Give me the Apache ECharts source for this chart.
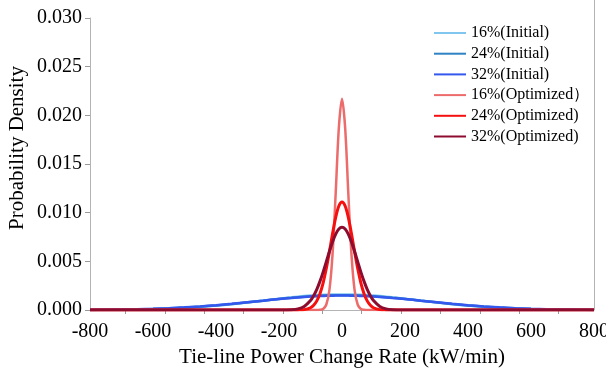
<!DOCTYPE html>
<html>
<head>
<meta charset="utf-8">
<script src="https://cdn.jsdelivr.net/npm/echarts@6/dist/echarts.min.js"></script>
<style>
  html, body { margin: 0; padding: 0; background: #fff; }
  #chart { width: 606px; height: 368px; }
</style>
</head>
<body>
<div id="chart"></div>
<script>
// x positions (kW/min)
const xs = [-800, -750, -700, -650, -600, -550, -500, -450, -400, -350, -300, -250, -200,
  -180, -160, -140, -120, -100, -90, -80, -70, -60, -50, -40, -30, -20, -10, 0,
  10, 20, 30, 40, 50, 60, 70, 80, 90, 100, 120, 140, 160, 180,
  200, 250, 300, 350, 400, 450, 500, 550, 600, 650, 700, 750, 800];

// probability density
const initial16 = [0.00001, 0.00002, 0.00003, 0.00005, 0.00009, 0.00014, 0.00022, 0.00032, 0.00045, 0.0006, 0.00078, 0.00097, 0.00116,
  0.00124, 0.0013, 0.00137, 0.00143, 0.00148, 0.0015, 0.00152, 0.00154, 0.00156, 0.00157, 0.00158, 0.00159, 0.0016, 0.0016, 0.0016,
  0.0016, 0.0016, 0.00159, 0.00158, 0.00157, 0.00156, 0.00154, 0.00152, 0.0015, 0.00148, 0.00143, 0.00137, 0.0013, 0.00124,
  0.00116, 0.00097, 0.00078, 0.0006, 0.00045, 0.00032, 0.00022, 0.00014, 0.00009, 0.00005, 0.00003, 0.00002, 0.00001];
const initial24 = [0.00001, 0.00003, 0.00004, 0.00007, 0.00011, 0.00017, 0.00025, 0.00035, 0.00047, 0.00062, 0.00079, 0.00096, 0.00114,
  0.0012, 0.00126, 0.00132, 0.00137, 0.00141, 0.00143, 0.00145, 0.00147, 0.00148, 0.00149, 0.0015, 0.00151, 0.00152, 0.00152, 0.00152,
  0.00152, 0.00152, 0.00151, 0.0015, 0.00149, 0.00148, 0.00147, 0.00145, 0.00143, 0.00141, 0.00137, 0.00132, 0.00126, 0.0012,
  0.00114, 0.00096, 0.00079, 0.00062, 0.00047, 0.00035, 0.00025, 0.00017, 0.00011, 0.00007, 0.00004, 0.00003, 0.00001];
const initial32 = [0.00002, 0.00003, 0.00005, 0.00008, 0.00013, 0.00019, 0.00027, 0.00037, 0.00049, 0.00064, 0.0008, 0.00096, 0.00113,
  0.00119, 0.00124, 0.00129, 0.00134, 0.00138, 0.0014, 0.00142, 0.00143, 0.00144, 0.00146, 0.00146, 0.00147, 0.00148, 0.00148, 0.00148,
  0.00148, 0.00148, 0.00147, 0.00146, 0.00146, 0.00144, 0.00143, 0.00142, 0.0014, 0.00138, 0.00134, 0.00129, 0.00124, 0.00119,
  0.00113, 0.00096, 0.0008, 0.00064, 0.00049, 0.00037, 0.00027, 0.00019, 0.00013, 0.00008, 0.00005, 0.00003, 0.00002];
const optimized16 = [0, 0, 0, 0, 0, 0, 0, 0, 0, 0, 0, 0, 0,
  0, 0, 0, 0, 0, 0, 0, 0.00002, 0.00011, 0.00054, 0.00204, 0.00574, 0.01202, 0.01872, 0.0217,
  0.01872, 0.01202, 0.00574, 0.00204, 0.00054, 0.00011, 0.00002, 0, 0, 0, 0, 0, 0, 0,
  0, 0, 0, 0, 0, 0, 0, 0, 0, 0, 0, 0, 0];
const optimized24 = [0, 0, 0, 0, 0, 0, 0, 0, 0, 0, 0, 0, 0,
  0, 0, 0.00001, 0.00004, 0.00023, 0.00049, 0.00094, 0.00168, 0.00277, 0.00423, 0.00599, 0.00785, 0.00951, 0.01068, 0.0111,
  0.01068, 0.00951, 0.00785, 0.00599, 0.00423, 0.00277, 0.00168, 0.00094, 0.00049, 0.00023, 0.00004, 0.00001, 0, 0,
  0, 0, 0, 0, 0, 0, 0, 0, 0, 0, 0, 0, 0];
const optimized32 = [0, 0, 0, 0, 0, 0, 0, 0, 0, 0, 0, 0, 0,
  0.00001, 0.00003, 0.00012, 0.00037, 0.00097, 0.00147, 0.00212, 0.00294, 0.00389, 0.00494, 0.00601, 0.00699, 0.00779, 0.00832, 0.0085,
  0.00832, 0.00779, 0.00699, 0.00601, 0.00494, 0.00389, 0.00294, 0.00212, 0.00147, 0.00097, 0.00037, 0.00012, 0.00003, 0.00001,
  0, 0, 0, 0, 0, 0, 0, 0, 0, 0, 0, 0, 0];

const seriesNames = ["16%(Initial)", "24%(Initial)", "32%(Initial)",
  "16%(Optimized\uFF09", "24%(Optimized)", "32%(Optimized)"];

// minor tick marks on the x axis sit between the labels
const xTickValues = [-687.5, -562.5, -437.5, -312.5, -187.5, -62.5, 62.5, 187.5, 312.5, 437.5, 562.5, 687.5];

const font = "'Liberation Serif', 'DejaVu Serif', serif";
const chart = echarts.init(document.getElementById("chart"));

function makeSeries(name, values, color, width) {
  return {
    name: name,
    type: "line",
    data: xs.map((x, i) => [x, values[i]]),
    smooth: 0.3,
    symbol: "circle",
    showSymbol: false,
    lineStyle: { color: color, width: width },
    itemStyle: { color: color },
  };
}

const option = {
  animation: false,
  backgroundColor: "#ffffff",
  grid: { left: 90, right: 12, top: 18, bottom: 58, outerBoundsMode: "none", containLabel: false },
  legend: {
    orient: "vertical",
    left: 433,
    top: 25,
    padding: 0,
    itemWidth: 32,
    itemHeight: 14,
    itemGap: 4.7,
    itemStyle: { opacity: 0 },
    textStyle: { fontFamily: font, fontSize: 16, color: "#000", lineHeight: 16 },
    data: seriesNames,
  },
  xAxis: {
    type: "value",
    min: -800,
    max: 800,
    interval: 200,
    axisLine: { show: true, onZero: false, lineStyle: { color: "#b4b4b4", width: 1 } },
    axisTick: { show: true, length: 4, customValues: xTickValues, lineStyle: { color: "#9a9a9a" } },
    axisLabel: { fontFamily: font, fontSize: 20, color: "#000", margin: 12 },
    splitLine: { show: false },
    name: "Tie-line Power Change Rate (kW/min)",
    nameLocation: "middle",
    nameGap: 36,
    nameTextStyle: { fontFamily: font, fontSize: 21, color: "#000" },
  },
  yAxis: {
    type: "value",
    min: 0,
    max: 0.03,
    interval: 0.005,
    axisLine: { show: true, onZero: false, lineStyle: { color: "#b4b4b4", width: 1 } },
    axisTick: { show: true, length: 5, lineStyle: { color: "#9a9a9a" } },
    axisLabel: {
      fontFamily: font,
      fontSize: 20,
      color: "#000",
      margin: 8,
      formatter: (v) => v.toFixed(3),
    },
    splitLine: { show: false },
  },
  graphic: [
    {
      type: "line",
      shape: { x1: 594.5, y1: 0, x2: 594.5, y2: 310 },
      style: { stroke: "#b4b4b4", lineWidth: 1 },
      silent: true,
    },
    {
      type: "text",
      x: 17,
      y: 148,
      rotation: Math.PI / 2,
      style: {
        text: "Probability Density",
        font: "21px " + font,
        fill: "#000",
        align: "center",
        verticalAlign: "middle",
      },
    },
  ],
  series: [
    makeSeries(seriesNames[0], initial16, "#80c6ee", 2.5),
    makeSeries(seriesNames[1], initial24, "#2f82c4", 2.5),
    makeSeries(seriesNames[2], initial32, "#3458ee", 2.5),
    makeSeries(seriesNames[3], optimized16, "#ec6b6b", 2.5),
    makeSeries(seriesNames[4], optimized24, "#f50f0f", 3),
    makeSeries(seriesNames[5], optimized32, "#8c0c30", 3),
  ],
};

chart.setOption(option);
</script>
</body>
</html>
